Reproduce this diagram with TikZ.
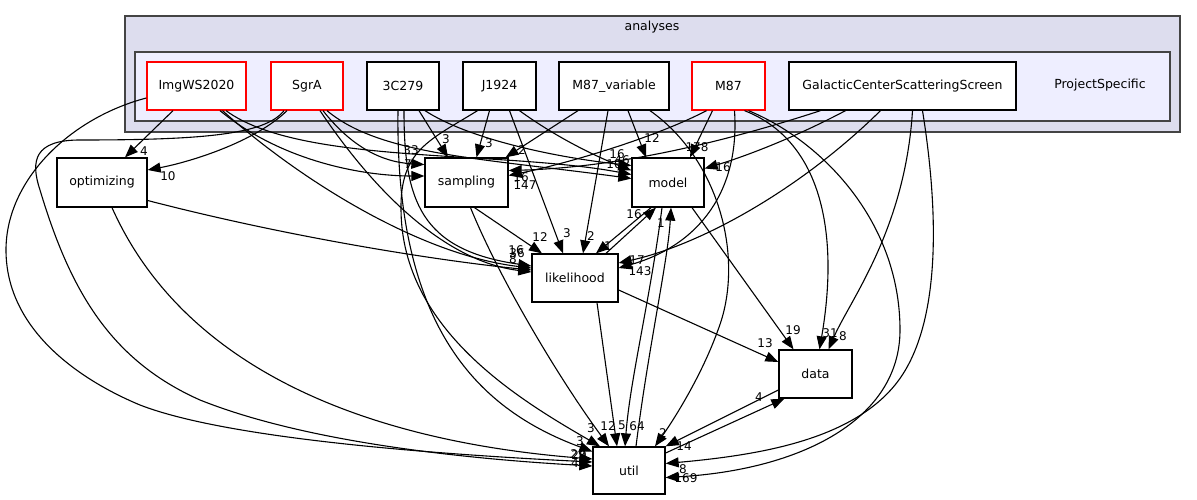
\documentclass[tikz,border=0pt]{standalone}
\usepackage{fontspec}
\setmainfont{DejaVu Sans}
\usetikzlibrary{arrows.meta}
\definecolor{clusterA}{HTML}{DDDDEE}
\definecolor{clusterB}{HTML}{EEEEFF}
\definecolor{clborder}{HTML}{444444}
\begin{document}
\begin{tikzpicture}[x=1pt,y=-1pt,
  dirbox/.style={draw=black, fill=white, line width=1.3pt, minimum height=48pt, inner sep=0pt, font=\fontsize{12.5}{14}\selectfont},
  reddir/.style={dirbox, draw=red},
  cluster/.style={draw=clborder, line width=1.5pt},
  dep/.style={draw=black, line width=1.1pt, -{Triangle[length=13pt,width=10pt]}},
  lbl/.style={font=\fontsize{12}{13}\selectfont, inner sep=0pt},
  cllbl/.style={font=\fontsize{12.5}{14}\selectfont, inner sep=0pt}]
\useasboundingbox (0,0) rectangle (1197,500);
\fill[white] (0,0) rectangle (1197,500);
% clusters
\draw[cluster, fill=clusterA] (125,16) rectangle (1180,132);
\draw[cluster, fill=clusterB] (135,52) rectangle (1170,121);
\node[cllbl] (analyseslbl) at (652,27) {analyses};
\node[cllbl] (pslbl) at (1100,85) {ProjectSpecific};
% nodes
\node[reddir, minimum width=99pt] (img) at (196.5,86) {ImgWS2020};
\node[reddir, minimum width=72pt] (sgra) at (307,86) {SgrA};
\node[dirbox, minimum width=72pt] (c3) at (403,86) {3C279};
\node[dirbox, minimum width=73pt] (j19) at (499.5,86) {J1924};
\node[dirbox, minimum width=110pt] (m87v) at (614,86) {M87\_variable};
\node[reddir, minimum width=73pt] (m87) at (728.5,86) {M87};
\node[dirbox, minimum width=227pt] (gcss) at (902.5,86) {GalacticCenterScatteringScreen};
\node[dirbox, minimum width=90pt, minimum height=49pt] (opt) at (102,182.5) {optimizing};
\node[dirbox, minimum width=83pt, minimum height=49pt] (samp) at (466.5,182.5) {sampling};
\node[dirbox, minimum width=72pt, minimum height=49pt] (model) at (668,182.5) {model};
\node[dirbox, minimum width=86pt] (lik) at (575,278) {likelihood};
\node[dirbox, minimum width=73pt] (data) at (815.5,374) {data};
\node[dirbox, minimum width=72pt, minimum height=47pt] (util) at (629,470.5) {util};
% edges
\draw[dep] ([xshift=-23.5pt]img.south) -- ([xshift=23pt]opt.north);
\draw[dep] ([yshift=-12pt]img.west) .. controls (70,118) and (6,180) .. (6,250) .. controls (6,330) and (80,380) .. (140,405) .. controls (230,440) and (450,455) .. ([yshift=8.5pt]util.west);
\draw[dep] ([xshift=23.5pt]img.south) .. controls (280,160) and (360,176) .. ([yshift=6.5pt]samp.west);
\draw[dep] ([xshift=29.5pt]img.south) .. controls (300,165) and (500,150) .. ([yshift=8pt]model.west);
\draw[dep] ([xshift=26pt]img.south) .. controls (300,180) and (420,255) .. ([yshift=10pt]lik.west);
\draw[dep] ([xshift=-20pt]sgra.south) .. controls (255,142) and (190,162) .. ([yshift=12.5pt]opt.east);
\draw[dep] ([xshift=-23pt]sgra.south) .. controls (265,135) and (200,140) .. (80,140) .. controls (35,140) and (30,160) .. (40,190) .. controls (70,290) and (110,360) .. (200,400) .. controls (300,440) and (450,458) .. ([yshift=4.5pt]util.west);
\draw[dep] ([xshift=16pt]sgra.south) .. controls (350,145) and (380,162) .. ([yshift=18pt]samp.west);
\draw[dep] ([xshift=20pt]sgra.south) .. controls (380,155) and (480,158) .. ([yshift=4pt]model.west);
\draw[dep] ([xshift=13pt]sgra.south) .. controls (380,200) and (450,262) .. ([yshift=6pt]lik.west);
\draw[dep] ([xshift=16pt]c3.south) -- ([xshift=-18.5pt]samp.north);
\draw[dep] ([xshift=22pt]c3.south) .. controls (470,140) and (560,158) .. ([yshift=17pt]model.west);
\draw[dep] ([xshift=1pt]c3.south) .. controls (404,200) and (420,250) .. ([yshift=12pt]lik.west);
\draw[dep] ([xshift=-5pt]c3.south) .. controls (395,330) and (480,410) .. ([yshift=19pt]util.west);
\draw[dep] ([xshift=-10pt]j19.south) -- ([xshift=10pt]samp.north);
\draw[dep] ([xshift=-22pt]j19.south) .. controls (430,140) and (400,150) .. (401,210) .. controls (402,330) and (520,400) .. ([xshift=-29pt]util.north);
\draw[dep] ([xshift=10pt]j19.south) -- ([xshift=-12pt]lik.north);
\draw[dep] ([xshift=20pt]j19.south) .. controls (560,140) and (600,158) .. ([yshift=12pt]model.west);
\draw[dep] ([xshift=-36pt]m87v.south) -- ([xshift=-3pt]samp.north east);
\draw[dep] ([xshift=-6pt]m87v.south) -- ([xshift=8pt]lik.north);
\draw[dep] ([xshift=14pt]m87v.south) -- ([xshift=-22pt]model.north);
\draw[dep] ([xshift=36pt]m87v.south) .. controls (720,160) and (745,260) .. (718,330) .. controls (700,380) and (670,425) .. ([xshift=26pt]util.north);
\draw[dep] ([xshift=-22pt]m87.south) .. controls (650,140) and (560,165) .. ([yshift=7pt]samp.east);
\draw[dep] ([xshift=-16pt]m87.south) -- ([xshift=22pt]model.north);
\draw[dep] ([xshift=6pt]m87.south) .. controls (740,190) and (700,245) .. ([yshift=10pt]lik.east);
\draw[dep] ([xshift=16pt]m87.south) .. controls (820,140) and (840,230) .. ([xshift=4pt]data.north);
\draw[dep] ([xshift=20pt]m87.south) .. controls (820,140) and (900,220) .. (900,330) .. controls (900,420) and (800,470) .. ([yshift=-7pt]util.east);
\draw[dep] ([xshift=-82pt]gcss.south) .. controls (700,150) and (600,168) .. ([yshift=12pt]samp.east);
\draw[dep] ([xshift=-57pt]gcss.south) .. controls (790,140) and (740,158) .. ([yshift=14pt]model.east);
\draw[dep] ([xshift=-22pt]gcss.south) .. controls (800,190) and (700,245) .. ([yshift=15pt]lik.east);
\draw[dep] ([xshift=10pt]gcss.south) .. controls (905,230) and (850,300) .. ([xshift=13pt]data.north);
\draw[dep] ([xshift=20pt]gcss.south) .. controls (940,220) and (940,330) .. (895,385) .. controls (850,440) and (760,455) .. ([yshift=7pt]util.east);
\draw[dep] ([yshift=-18pt]opt.east) .. controls (300,240) and (450,262) .. ([yshift=8pt]lik.west);
\draw[dep] ([xshift=10pt]opt.south) .. controls (180,360) and (350,440) .. ([yshift=11.5pt]util.west);
\draw[dep] ([xshift=8pt]samp.south) -- ([xshift=-33pt]lik.north);
\draw[dep] ([xshift=4pt]samp.south) .. controls (500,280) and (560,380) .. ([xshift=-20pt]util.north);
\draw[dep] ([xshift=-17pt]model.south) -- ([xshift=21pt]lik.north);
\draw[dep] ([xshift=31pt]lik.north) -- ([xshift=-12pt]model.south);
\draw[dep] ([xshift=7pt]util.north) .. controls (648,350) and (668,260) .. ([xshift=3pt]model.south);
\draw[dep] ([xshift=-6pt]model.south) .. controls (650,300) and (630,380) .. ([xshift=-4pt]util.north);
\draw[dep] ([xshift=24pt]model.south) -- ([xshift=-22pt]data.north);
\draw[dep] ([yshift=-12pt]lik.east) -- ([yshift=12pt]data.west);
\draw[dep] ([xshift=22pt]lik.south) -- ([xshift=-12pt]util.north);
\draw[dep] ([yshift=-16pt]data.west) -- (util.north east);
\draw[dep] ([yshift=17.5pt]util.east) -- ([xshift=6pt]data.south west);
% edge labels
\node[lbl] (l1) at (144,151) {4};
\node[lbl] (l2) at (578,454) {29};
\node[lbl] (l3) at (408,164) {7};
\node[lbl] (l4) at (614,164) {10};
\node[lbl] (l5) at (516,250) {16};
\node[lbl] (l6) at (168,176) {10};
\node[lbl] (l7) at (575,463) {4};
\node[lbl] (l8) at (411,150) {33};
\node[lbl] (l9) at (622,160) {46};
\node[lbl] (l10) at (517,253) {36};
\node[lbl] (l11) at (446,139) {3};
\node[lbl] (l12) at (617,154) {16};
\node[lbl] (l14) at (580,441) {3};
\node[lbl] (l15) at (489,143) {3};
\node[lbl] (l16) at (591,428) {3};
\node[lbl] (l17) at (567,233) {3};
\node[lbl] (l19) at (522,150) {2};
\node[lbl] (l20) at (591,236) {2};
\node[lbl] (l21) at (652,138) {12};
\node[lbl] (l22) at (663,433) {2};
\node[lbl] (l23) at (525,185) {147};
\node[lbl] (l24) at (697,147) {178};
\node[lbl] (l25) at (640,271) {143};
\node[lbl] (l26) at (830,333) {31};
\node[lbl] (l27) at (686,478) {169};
\node[lbl] (l28) at (521,177) {16};
\node[lbl] (l29) at (723,167) {16};
\node[lbl] (l30) at (637,260) {17};
\node[lbl] (l31) at (843,336) {8};
\node[lbl] (l32) at (683,469) {8};
\node[lbl] (l33) at (513,259) {8};
\node[lbl] (l34) at (579,455) {20};
\node[lbl] (l35) at (540,237) {12};
\node[lbl] (l36) at (608,426) {12};
\node[lbl] (l37) at (608,246) {1};
\node[lbl] (l38) at (634,214) {16};
\node[lbl] (l39) at (661,223) {1};
\node[lbl] (l40) at (637,426) {64};
\node[lbl] (l41) at (793,330) {19};
\node[lbl] (l42) at (765,343) {13};
\node[lbl] (l43) at (622,425) {5};
\node[lbl] (l44) at (684,446) {14};
\node[lbl] (l45) at (759,397) {4};
\end{tikzpicture}
\end{document}
